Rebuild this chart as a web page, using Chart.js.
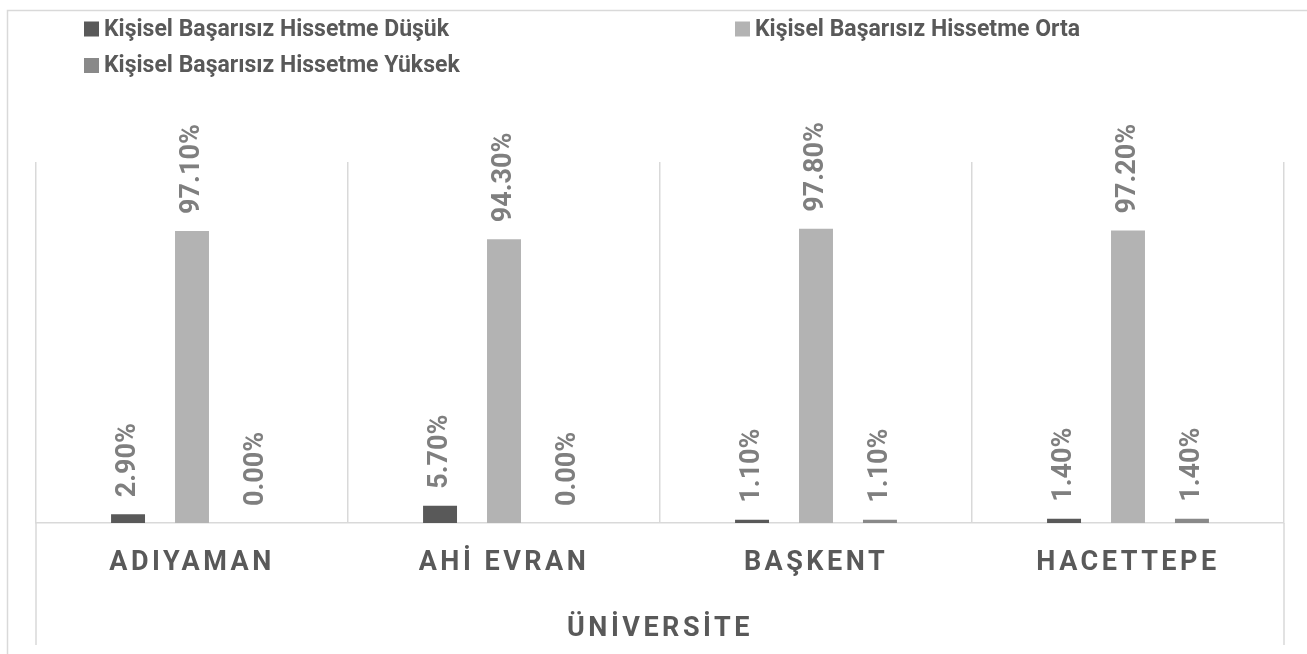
<!DOCTYPE html>
<html>
<head>
<meta charset="utf-8">
<script src="https://cdn.jsdelivr.net/npm/chart.js@4"></script>
<style>
  html, body { margin: 0; padding: 0; background: #ffffff; }
  #wrap { position: relative; width: 1307px; height: 654px; }
</style>
</head>
<body>
<div id="wrap"><canvas id="c" width="1307" height="654"></canvas></div>
<script>
// ---- data ----
const categories = ['ADIYAMAN', 'AHİ EVRAN', 'BAŞKENT', 'HACETTEPE'];
const seriesNames = [
  'Kişisel Başarısız Hissetme Düşük',
  'Kişisel Başarısız Hissetme Orta',
  'Kişisel Başarısız Hissetme Yüksek'
];
const dusukValues = [2.9, 5.7, 1.1, 1.4];
const ortaValues = [97.1, 94.3, 97.8, 97.2];
const yuksekValues = [0.0, 0.0, 1.1, 1.4];
const axisTitle = 'ÜNİVERSİTE';
const axisMin = 0;
const axisMax = 120;

// ---- styles ----
const seriesColors = ['#595959', '#b3b3b3', '#898989'];
const textColor = '#595959';
const labelColor = '#7f7f7f';
const gridColor = '#d9d9d9';
const FONT = 'Roboto';

// outer frame
const framePlugin = {
  id: 'frame',
  beforeDraw(chart) {
    const ctx = chart.ctx;
    ctx.save();
    ctx.strokeStyle = gridColor;
    ctx.lineWidth = 1.5;
    ctx.strokeRect(7.5, 10.5, 1400, 700);
    ctx.restore();
    // letter spacing for axis texts
    ctx.letterSpacing = '3.5px';
  },
  beforeDatasetsDraw(chart) {
    chart.ctx.letterSpacing = '0px';
    // extended outer separators through the category-label band
    const x = chart.scales.x;
    const ctx = chart.ctx;
    ctx.save();
    ctx.strokeStyle = gridColor;
    ctx.lineWidth = 1.5;
    ctx.beginPath();
    [x.left, x.right].forEach(px => {
      ctx.moveTo(px, chart.chartArea.bottom);
      ctx.lineTo(px, x.bottom);
    });
    ctx.stroke();
    ctx.restore();
  }
};

// rotated value labels above bars
const valueLabelPlugin = {
  id: 'valueLabels',
  afterDatasetsDraw(chart) {
    const ctx = chart.ctx;
    ctx.save();
    ctx.fillStyle = labelColor;
    ctx.font = 'bold 27px ' + FONT;
    ctx.textAlign = 'left';
    ctx.textBaseline = 'middle';
    chart.data.datasets.forEach((ds, di) => {
      const meta = chart.getDatasetMeta(di);
      meta.data.forEach((bar, i) => {
        const v = ds.data[i];
        ctx.save();
        ctx.translate(bar.x, bar.y - 17);
        ctx.rotate(-Math.PI / 2);
        ctx.fillText(v.toFixed(2) + '%', 0, 0);
        ctx.restore();
      });
    });
    ctx.restore();
  }
};

// Excel-like legend grid (2 columns)
const legendPlugin = {
  id: 'gridLegend',
  afterDraw(chart) {
    const ctx = chart.ctx;
    const cols = [84, 735];
    const rows = [29, 65.5];
    const box = 15;
    ctx.save();
    ctx.font = 'bold 23px ' + FONT;
    ctx.textAlign = 'left';
    ctx.textBaseline = 'middle';
    chart.data.datasets.forEach((ds, i) => {
      const cx = cols[i % 2];
      const cy = rows[Math.floor(i / 2)];
      ctx.fillStyle = ds.backgroundColor;
      ctx.fillRect(cx, cy - box / 2, box, box);
      ctx.fillStyle = textColor;
      ctx.fillText(ds.label, cx + box + 5, cy + 1);
    });
    ctx.restore();
  }
};

const seriesValues = [dusukValues, ortaValues, yuksekValues];

new Chart(document.getElementById('c'), {
  type: 'bar',
  data: {
    labels: categories,
    datasets: seriesNames.map((name, i) => ({
      label: name,
      data: seriesValues[i],
      backgroundColor: seriesColors[i],
      borderWidth: 0,
      categoryPercentage: 0.615,
      barPercentage: 0.531
    }))
  },
  options: {
    responsive: false,
    animation: false,
    layout: { padding: { left: 36, right: 23, top: 162, bottom: 9 } },
    plugins: {
      legend: { display: false },
      tooltip: { enabled: false },
      title: { display: false }
    },
    scales: {
      x: {
        offset: true,
        grid: { color: gridColor, lineWidth: 1.5, offset: true, drawTicks: false },
        border: { color: gridColor, width: 1.5 },
        ticks: {
          color: textColor,
          font: { family: FONT, size: 27, weight: 'bold' },
          padding: 24,
          autoSkip: false,
          maxRotation: 0
        },
        title: {
          display: true,
          text: axisTitle,
          color: textColor,
          font: { family: FONT, size: 27, weight: 'bold' },
          padding: { top: 3, bottom: 0 }
        },
        afterFit(scale) { scale.height = 122; }
      },
      y: {
        display: false,
        min: axisMin,
        max: axisMax
      }
    }
  },
  plugins: [framePlugin, valueLabelPlugin, legendPlugin]
});
</script>
</body>
</html>
